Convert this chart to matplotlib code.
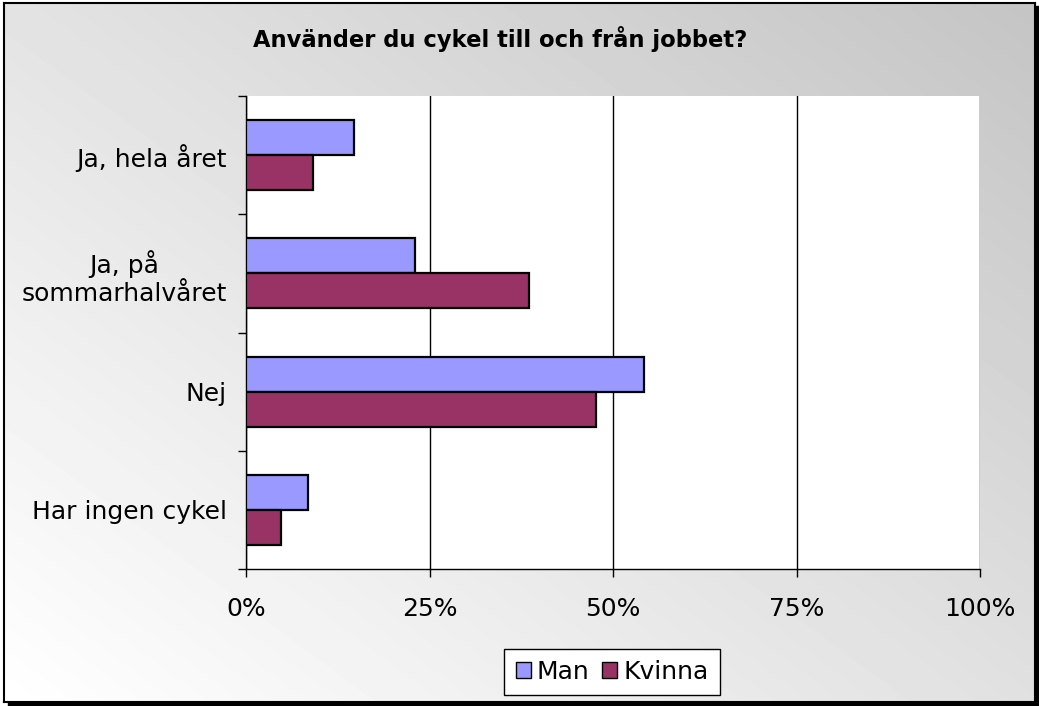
import numpy as np
import matplotlib
matplotlib.use("Agg")
import matplotlib.pyplot as plt
from matplotlib.patches import Rectangle, Patch

# data (percent)
categories = ["Ja, hela året", "Ja, på\nsommarhalvåret", "Nej", "Har ingen cykel"]
man = [14.7, 23.0, 54.2, 8.4]
kvinna = [9.1, 38.6, 47.7, 4.8]
xticks = [0, 25, 50, 75, 100]
xtick_labels = ["0%", "25%", "50%", "75%", "100%"]

W, H = 1039, 706
plt.rcParams['font.family'] = ['DejaVu Sans']

fig = plt.figure(figsize=(W / 100, H / 100), dpi=100)
fig.patch.set_facecolor('white')

# drop shadow behind the chart frame
fig.patches.append(Rectangle((8 / W, 0), (W - 8) / W, (H - 6) / H,
                             transform=fig.transFigure, color='black', zorder=0))

# gradient chart area with black frame
bg = fig.add_axes([4 / W, (H - 702) / H, (1035 - 4) / W, (702 - 3) / H], zorder=1)
gx, gy = np.meshgrid(np.linspace(0, 1, 200), np.linspace(0, 1, 200))
grad = np.clip(0.89 - 0.12 * gx + 0.11 * gy, 0, 1)
bg.imshow(grad, cmap='gray', vmin=0, vmax=1, extent=[0, 1, 0, 1], aspect='auto',
          interpolation='bilinear')
bg.set_xticks([])
bg.set_yticks([])
for s in bg.spines.values():
    s.set_color('black')
    s.set_linewidth(1.5)

ax = fig.add_axes([246 / W, 1 - 569 / H, (980 - 246) / W, (569 - 96) / H], zorder=2)
ax.set_facecolor('white')

y = np.arange(len(categories))
h = 0.297
ax.barh(y - h / 2, man, height=h, color='#9999FF', edgecolor='black', linewidth=1.6, zorder=3)
ax.barh(y + h / 2, kvinna, height=h, color='#993366', edgecolor='black', linewidth=1.6, zorder=3)

ax.set_xlim(0, 100)
ax.set_ylim(len(categories) - 0.5, -0.5)

ax.set_xticks(xticks)
ax.set_xticklabels(xtick_labels, fontsize=18)
ax.tick_params(axis='x', direction='out', length=6, width=1, pad=14, color='black')
ax.xaxis.grid(True, color='black', linewidth=1)
ax.set_axisbelow(True)

ax.set_yticks(np.arange(len(categories) + 1) - 0.5)
ax.set_yticklabels([])
ax.set_yticks(y, minor=True)
ax.set_yticklabels(categories, minor=True, fontsize=18)
for lab in ax.get_yticklabels(minor=True):
    lab.set_multialignment('center')
ax.tick_params(axis='y', which='major', direction='out', length=6, width=1, color='black')
ax.tick_params(axis='y', which='minor', length=0, pad=14)

ax.spines['top'].set_visible(False)
ax.spines['right'].set_visible(False)
ax.spines['left'].set_linewidth(1)
ax.spines['bottom'].set_linewidth(1)

fig.text(500 / W, 1 - 47 / H, "Använder du cykel till och från jobbet?",
         ha='center', va='baseline', fontsize=16.3, fontweight='bold', zorder=5)

handles = [Patch(facecolor='#9999FF', edgecolor='black', label='Man'),
           Patch(facecolor='#993366', edgecolor='black', label='Kvinna')]
leg = fig.legend(handles=handles, loc='center', bbox_to_anchor=(612 / W, 1 - 672 / H),
                 ncol=2, fontsize=18, frameon=True, fancybox=False, edgecolor='black',
                 facecolor='white', framealpha=1, handlelength=0.6, handleheight=0.6,
                 handletextpad=0.25, columnspacing=0.5, borderpad=0.45, borderaxespad=0)
leg.get_frame().set_linewidth(1)
leg.set_zorder(5)

fig.savefig("out.png", dpi=100)
